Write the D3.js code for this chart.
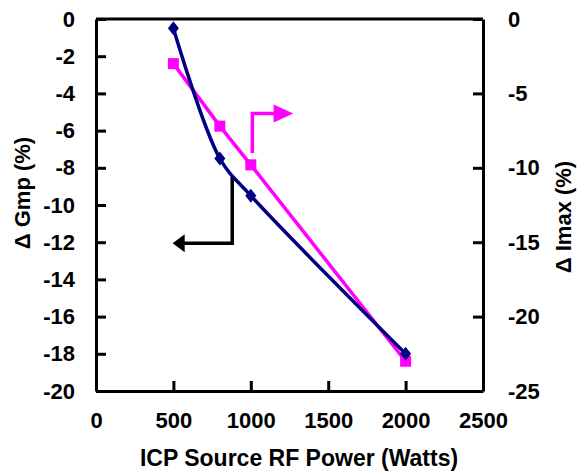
<!DOCTYPE html>
<html>
<head>
<meta charset="utf-8">
<script src="https://cdn.jsdelivr.net/npm/d3@7"></script>
<style>
  body { margin: 0; background: #fff; }
  svg text { font-family: "Liberation Sans", Arial, sans-serif; font-weight: bold; fill: #000; }
</style>
</head>
<body>
<svg id="chart" width="577" height="472"></svg>
<script>
// data
const power = [500, 800, 1000, 2000]
const gmp = [-0.5, -7.5, -9.5, -18]
const imax = [-3.0, -7.2, -9.8, -23.0]

const xTicks = [0, 500, 1000, 1500, 2000, 2500]
const yLeftTicks = [0, -2, -4, -6, -8, -10, -12, -14, -16, -18, -20]
const yRightTicks = [0, -5, -10, -15, -20, -25]

// annotation arrows, in data units of their own axis
const gmpArrow = [[880, -8.5], [880, -12.05], [560, -12.05]]
const gmpArrowTip = [495, -12.05]
const imaxArrow = [[1010, -9.0], [1010, -6.35], [1160, -6.35]]
const imaxArrowTip = [1275, -6.35]

const margin = { left: 96, right: 94, top: 19, bottom: 81 }
const width = 577, height = 472

const svg = d3.select("#chart")

const x = d3.scaleLinear().domain([0, 2500]).range([margin.left, width - margin.right])
const yL = d3.scaleLinear().domain([-20, 0]).range([height - margin.bottom, margin.top])
const yR = d3.scaleLinear().domain([-25, 0]).range([height - margin.bottom, margin.top])

const navy = "#000080"
const magenta = "#ff00ff"
const fmt = d => String(d)

// axes, ticks pointing inward
const xAxis = svg.append("g")
    .attr("transform", `translate(0,${yL(-20)})`)
    .call(d3.axisBottom(x).tickValues(xTicks).tickFormat(fmt).tickSizeInner(-10).tickSizeOuter(0).tickPadding(21))
const leftAxis = svg.append("g")
    .attr("transform", `translate(${x(0)},0)`)
    .call(d3.axisLeft(yL).tickValues(yLeftTicks).tickFormat(fmt).tickSizeInner(-10).tickSizeOuter(0).tickPadding(21))
const rightAxis = svg.append("g")
    .attr("transform", `translate(${x(2500)},0)`)
    .call(d3.axisRight(yR).tickValues(yRightTicks).tickFormat(fmt).tickSizeInner(-10).tickSizeOuter(0).tickPadding(25))

// top border
svg.append("line")
    .attr("x1", x(0)).attr("x2", x(2500))
    .attr("y1", yL(0)).attr("y2", yL(0))
    .attr("stroke", "#000").attr("stroke-width", 3)

;[xAxis, leftAxis, rightAxis].forEach(ax => {
    ax.attr("font-family", null).attr("font-size", null)
    ax.select(".domain").attr("stroke", "#000").attr("stroke-width", 3)
    ax.selectAll(".tick line").attr("stroke", "#000").attr("stroke-width", 3)
    ax.selectAll(".tick text")
        .style("font-family", "'Liberation Sans', Arial, sans-serif")
        .style("font-weight", "bold")
        .style("font-size", "22px")
        .attr("fill", "#000")
})
xAxis.selectAll(".tick text").attr("dy", "0.71em")

// axis titles
svg.append("text")
    .attr("x", 299).attr("y", 466)
    .attr("text-anchor", "middle")
    .style("font-size", "23px")
    .text("ICP Source RF Power (Watts)")

svg.append("text")
    .attr("transform", "translate(30,193) rotate(-90)")
    .attr("text-anchor", "middle")
    .style("font-size", "22px")
    .text("\u0394 Gmp (%)")

svg.append("text")
    .attr("transform", "translate(571,217) rotate(-90)")
    .attr("text-anchor", "middle")
    .style("font-size", "22px")
    .text("\u0394 Imax (%)")

// annotation arrows
function drawArrow(pts, tip, yScale, color) {
    const line = d3.line().x(d => x(d[0])).y(d => yScale(d[1]))
    svg.append("path")
        .attr("d", line(pts))
        .attr("fill", "none")
        .attr("stroke", color)
        .attr("stroke-width", 3.5)
    const last = pts[pts.length - 1]
    const dir = Math.sign(tip[0] - last[0])
    const bx = x(last[0]) - dir * 2, ty = yScale(tip[1])
    svg.append("path")
        .attr("d", `M${x(tip[0])},${ty} L${bx},${ty - 9} L${bx},${ty + 9} Z`)
        .attr("fill", color)
}
drawArrow(gmpArrow, gmpArrowTip, yL, "#000")
drawArrow(imaxArrow, imaxArrowTip, yR, magenta)

// Imax series (straight segments)
const imaxData = power.map((p, i) => [p, imax[i]])
svg.append("path")
    .attr("d", d3.line().x(d => x(d[0])).y(d => yR(d[1]))(imaxData))
    .attr("fill", "none")
    .attr("stroke", magenta)
    .attr("stroke-width", 3.5)

svg.selectAll("rect.imax")
    .data(imaxData)
    .join("rect")
    .attr("class", "imax")
    .attr("x", d => x(d[0]) - 5.5)
    .attr("y", d => yR(d[1]) - 5.5)
    .attr("width", 11).attr("height", 11)
    .attr("fill", magenta)

// Gmp series (smoothed)
const gmpData = power.map((p, i) => [p, gmp[i]])
svg.append("path")
    .attr("d", d3.line().curve(d3.curveCatmullRom.alpha(0.5)).x(d => x(d[0])).y(d => yL(d[1]))(gmpData))
    .attr("fill", "none")
    .attr("stroke", navy)
    .attr("stroke-width", 3.5)

svg.selectAll("path.gmp")
    .data(gmpData)
    .join("path")
    .attr("class", "gmp")
    .attr("transform", d => `translate(${x(d[0])},${yL(d[1])})`)
    .attr("d", "M0,-7 L5.5,0 L0,7 L-5.5,0 Z")
    .attr("fill", navy)
</script>
</body>
</html>
